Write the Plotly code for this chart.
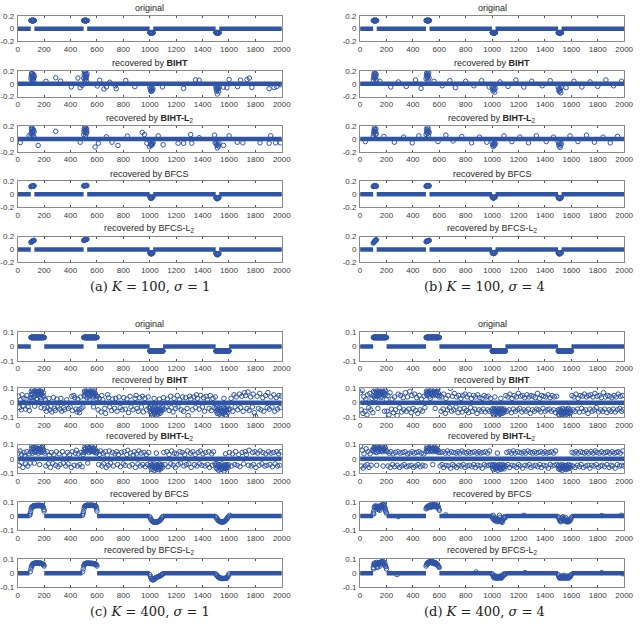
import plotly.graph_objects as go

# ---------------- data ----------------
N = 2000
x_ticks = [0, 200, 400, 600, 800, 1000, 1200, 1400, 1600, 1800, 2000]
x_tick_labels = [str(v) for v in x_ticks]
y_ticks_top = [-0.2, 0, 0.2]
y_tick_labels_top = ["-0.2", "0", "0.2"]
y_ticks_bot = [-0.1, 0, 0.1]
y_tick_labels_bot = ["-0.1", "0", "0.1"]

# original block-sparse signals
block_starts = [101, 501, 1001, 1501]
k100_len = 25
k100_vals = [0.1265, 0.1265, -0.0632, -0.0632]
k400_len = 100
k400_vals = [0.0632, 0.0632, -0.0316, -0.0316]

titles = ["original", "recovered by <b>BIHT</b>", "recovered by <b>BIHT-L</b><sub>2</sub>",
          "recovered by BFCS", "recovered by BFCS-L<sub>2</sub>"]
captions = ["(a) <i>K</i> = 100, <i>σ</i> = 1", "(b) <i>K</i> = 100, <i>σ</i> = 4",
            "(c) <i>K</i> = 400, <i>σ</i> = 1", "(d) <i>K</i> = 400, <i>σ</i> = 4"]

# recovered points (index, value) that leave the zero line
a_biht = [[100,.08],[103,.12],[105,.15],[108,.06],[110,.1],[112,.16],[115,.13],[118,.09],[120,.05],[122,.14],[125,.11],[106,.17],[114,.07],[119,.12],
          [500,.09],[503,.14],[505,.19],[508,.06],[510,.12],[512,.17],[515,.15],[518,.1],[520,.05],[522,.13],[525,.16],[507,.2],[514,.08],[517,.11],
          [214,.04],[288,.095],[325,.043],[406,-.048],[456,.09],[473,-.06],[488,-.024],[603,-.033],[621,.057],[653,-.08],[672,-.048],[697,.024],
          [739,-.03],[746,-.076],[818,.052],[887,-.043],[1096,-.048],[1256,-.071],[1347,.062],[1374,.057],[1557,-.052],[1584,-.062],[1601,.067],
          [1665,-.043],[1687,.057],[1736,.067],[1754,.09],[1773,-.057],[1904,-.076],[1941,-.057],[1961,-.043],[1990,-.014],
          [1000,-.05],[1004,-.09],[1008,-.07],[1012,-.11],[1016,-.06],[1020,-.1],[1024,-.08],[1010,-.12],
          [1500,-.04],[1503,-.08],[1506,-.11],[1509,-.06],[1512,-.16],[1515,-.09],[1518,-.07],[1521,-.12],[1524,-.05],[1510,-.03]]
a_biht_l2 = [[100,.04],[102,.09],[104,.15],[106,.18],[108,.12],[110,.07],[112,.16],[114,.1],[116,.13],[118,.05],[120,.14],[122,.03],[124,.11],[107,.17],
             [500,.07],[502,.12],[504,.16],[506,.19],[508,.1],[510,.14],[512,.18],[514,.06],[516,.13],[518,.17],[520,.09],[522,.15],[524,.11],
             [20,-.055],[86,.05],[155,-.1],[288,.12],[473,-.05],[586,-.125],[611,-.065],[672,.035],[714,-.05],[759,-.1],[830,.045],[943,.105],
             [960,.07],[978,-.065],[998,-.12],[1064,.05],[1101,-.09],[1214,-.065],[1256,-.065],[1310,.07],[1318,-.065],[1374,.02],[1490,.06],
             [1495,-.06],[1559,-.1],[1601,.05],[1663,-.05],[1705,-.06],[1835,-.06],[1904,-.065],[1916,.05],[1953,-.06],[1990,-.06],
             [1002,-.04],[1006,-.08],[1010,-.1],[1014,-.06],[1018,-.09],[1022,-.07],[1025,-.05],
             [1500,-.03],[1504,-.07],[1508,-.1],[1512,-.14],[1516,-.08],[1520,-.11],[1524,-.06]]
a_bfcs = [[100,.12],[103,.12],[106,.125],[109,.125],[112,.125],[115,.13],[118,.13],[121,.13],[124,.13],
          [500,.13],[503,.13],[506,.132],[509,.135],[512,.135],[515,.135],[518,.137],[521,.137],[524,.135],
          [1000,-.035],[1003,-.05],[1006,-.06],[1009,-.065],[1012,-.06],[1015,-.055],[1018,-.05],[1021,-.045],[1024,-.04],
          [1500,-.05],[1503,-.06],[1506,-.065],[1509,-.07],[1512,-.07],[1515,-.065],[1518,-.06],[1521,-.055],[1524,-.05]]
a_bfcs_l2 = [[100,.11],[103,.115],[106,.12],[109,.125],[112,.13],[115,.133],[118,.136],[121,.14],[124,.14],
             [500,.14],[503,.143],[506,.146],[509,.149],[512,.152],[515,.155],[518,.157],[521,.158],[524,.16],
             [1000,-.05],[1003,-.06],[1006,-.065],[1009,-.07],[1012,-.07],[1015,-.065],[1018,-.06],[1021,-.055],[1024,-.05],
             [1500,-.06],[1503,-.07],[1506,-.075],[1509,-.08],[1512,-.085],[1515,-.08],[1518,-.075],[1521,-.07],[1524,-.065]]

b_biht = [[100,.06],[103,.1],[105,.14],[108,.17],[110,.09],[112,.13],[115,.16],[118,.07],[120,.11],[122,.15],[125,.05],
          [500,.08],[503,.12],[505,.16],[508,.18],[510,.1],[512,.14],[515,.06],[518,.13],[520,.17],[523,.09],
          [150,.04],[232,-.05],[290,.03],[350,-.04],[420,.06],[462,-.07],[560,.04],[622,-.03],[680,.05],[722,-.06],[800,.04],[862,-.03],
          [920,.05],[978,-.05],[1060,.03],[1120,-.04],[1180,.06],[1240,-.05],[1300,.04],[1380,-.03],[1440,.05],[1560,-.06],[1620,.04],
          [1680,-.05],[1742,.03],[1800,-.04],[1862,.06],[1920,-.03],[1980,.04],
          [1000,-.04],[1004,-.08],[1008,-.11],[1012,-.06],[1016,-.09],[1020,-.13],[1024,-.07],
          [1500,-.05],[1504,-.09],[1508,-.12],[1512,-.07],[1516,-.1],[1520,-.14],[1524,-.06]]
b_biht_l2 = [[100,.05],[103,.09],[105,.13],[108,.17],[110,.11],[112,.15],[115,.07],[118,.12],[120,.16],[123,.08],
             [500,.07],[503,.11],[505,.15],[508,.18],[510,.09],[512,.13],[515,.17],[518,.06],[520,.12],[523,.1],
             [40,-.04],[180,.04],[260,-.05],[330,.03],[395,-.06],[445,.05],[590,-.04],[650,.06],[705,-.03],[770,.04],[845,-.06],
             [905,.03],[960,-.05],[1090,.05],[1150,-.04],[1210,.03],[1275,-.06],[1335,.05],[1410,-.04],[1465,.03],[1590,.05],
             [1650,-.04],[1715,.06],[1775,-.05],[1840,.03],[1895,-.06],[1950,.04],
             [1000,-.05],[1004,-.09],[1008,-.12],[1012,-.07],[1016,-.1],[1020,-.06],[1024,-.08],
             [1500,-.04],[1504,-.08],[1508,-.11],[1512,-.06],[1516,-.13],[1520,-.09],[1524,-.07]]
b_bfcs = [[100,.12],[103,.125],[106,.13],[109,.13],[112,.135],[115,.135],[118,.13],[121,.13],[124,.125],
          [500,.125],[503,.13],[506,.13],[509,.132],[512,.135],[515,.135],[518,.133],[521,.13],[524,.13],
          [1000,-.04],[1003,-.05],[1006,-.055],[1009,-.06],[1012,-.06],[1015,-.055],[1018,-.05],[1021,-.045],[1024,-.04],
          [1500,-.05],[1503,-.055],[1506,-.06],[1509,-.065],[1512,-.07],[1515,-.065],[1518,-.06],[1521,-.055],[1524,-.05]]
b_bfcs_l2 = [[100,.1],[103,.108],[106,.115],[109,.122],[112,.13],[115,.136],[118,.142],[121,.147],[124,.15],
             [500,.12],[503,.124],[506,.128],[509,.131],[512,.134],[515,.136],[518,.138],[521,.14],[524,.14],
             [1000,-.045],[1003,-.055],[1006,-.06],[1009,-.065],[1012,-.065],[1015,-.06],[1018,-.055],[1021,-.05],[1024,-.045],
             [1500,-.05],[1503,-.06],[1506,-.065],[1509,-.07],[1512,-.07],[1515,-.065],[1518,-.06],[1521,-.055],[1524,-.05]]

c_biht = [[6,.045],[14,-.035],[19,.02],[27,-.05],[33,.055],[41,-.025],[47,.03],[58,-.045],[63,.025],[71,.05],[79,-.03],[88,-.055],[95,.035],
          [101,.055],[103,.08],[107,.035],[111,.09],[114,.06],[119,.075],[122,.04],[127,.085],[131,.065],[134,.05],[139,.08],[143,.03],
          [146,.07],[151,.09],[155,.055],[158,.075],[163,.045],[167,.085],[171,.065],[174,.035],[179,.08],[183,.06],[186,.095],[191,.05],
          [194,.07],[198,.04],[109,.02],[149,.025],[169,.06],[129,-.025],[177,-.035],[141,.1],
          [203,-.04],[209,.02],[217,-.06],[224,-.035],[236,.03],[243,-.05],[251,-.025],[258,-.065],[271,.035],[279,-.04],[284,-.055],
          [296,.025],[303,-.03],[318,-.045],[327,.03],[334,-.06],[349,-.035],[356,-.05],[371,.02],[383,-.04],[397,-.03],[409,.045],
          [414,-.055],[425,.05],[433,.035],[441,-.045],[449,-.065],[455,.025],[463,-.05],[468,-.07],[477,.04],[481,-.04],[494,-.03],
          [502,.05],[505,.075],[509,.085],[511,.045],[517,.065],[521,.08],[523,.035],[529,.07],[533,.055],[535,.09],[541,.04],[543,.07],
          [549,.085],[551,.05],[557,.075],[561,.06],[563,.09],[569,.04],[571,.075],[577,.055],[579,.085],[585,.045],[587,.065],[593,.05],
          [597,.03],[546,.02],[574,-.03],[538,.06],[582,.07],
          [603,.045],[609,-.05],[618,.03],[631,-.065],[637,.05],[644,.02],[659,-.04],[666,-.075],[681,.055],[688,.035],[697,-.03],
          [711,-.055],[719,.025],[733,-.04],[741,.03],[752,-.06],[767,.04],[776,-.035],[791,-.05],[803,.035],[815,-.045],[827,.025],
          [839,-.07],[851,.045],[858,-.03],[873,-.05],[889,.03],[897,.05],[904,-.04],[913,-.06],[922,.035],[937,-.03],[944,.045],
          [951,-.065],[963,.03],[976,-.05],[988,.04],[994,-.035],
          [1001,-.04],[1005,-.065],[1007,-.03],[1013,-.075],[1015,-.05],[1021,-.085],[1023,-.04],[1029,-.065],[1031,-.055],[1037,-.08],
          [1039,-.035],[1045,-.06],[1047,-.05],[1053,-.09],[1055,-.045],[1061,-.07],[1063,-.03],[1069,-.06],[1071,-.05],[1077,-.075],
          [1079,-.04],[1085,-.065],[1087,-.055],[1093,-.035],[1097,-.05],[1033,.03],[1073,.025],[1042,-.02],[1058,-.08],
          [1104,.035],[1111,-.045],[1124,-.03],[1133,.025],[1147,-.055],[1158,.045],[1163,-.035],[1176,-.065],[1184,.03],[1197,-.04],
          [1209,.05],[1214,-.03],[1226,.02],[1238,-.05],[1249,.04],[1257,-.06],[1271,.035],[1283,-.04],[1291,-.09],[1302,.045],
          [1311,.025],[1323,-.05],[1336,.04],[1347,-.035],[1353,.055],[1361,.03],[1374,-.045],[1386,.05],[1398,-.03],[1407,.035],
          [1415,-.06],[1427,.045],[1436,.02],[1449,-.04],[1458,.05],[1466,-.055],[1478,.03],[1487,-.035],[1496,.04],
          [1502,-.04],[1505,-.06],[1509,-.03],[1511,-.075],[1517,-.05],[1519,-.065],[1525,-.035],[1527,-.08],[1533,-.045],[1535,-.06],
          [1541,-.09],[1543,-.04],[1549,-.07],[1551,-.055],[1557,-.035],[1559,-.075],[1565,-.05],[1567,-.065],[1573,-.04],[1575,-.085],
          [1581,-.05],[1583,-.06],[1589,-.03],[1591,-.07],[1597,-.045],[1546,-.1],[1562,.03],
          [1607,-.045],[1616,.03],[1629,-.06],[1638,.055],[1647,-.03],[1654,.04],[1666,-.05],[1679,.06],[1688,-.035],[1696,.045],
          [1707,-.06],[1718,.07],[1726,.05],[1737,-.04],[1744,.075],[1753,-.055],[1764,.04],[1777,-.03],[1783,.06],[1792,-.07],
          [1801,-.095],[1813,.045],[1824,-.04],[1833,.065],[1842,-.05],[1856,.035],[1864,-.06],[1877,.05],[1889,-.035],[1894,.07],
          [1906,-.045],[1917,.04],[1926,-.03],[1939,.055],[1947,-.06],[1958,.035],[1967,-.045],[1978,.05],[1986,-.035],[1997,.045]]
c_biht_l2 = [[4,.04],[11,-.045],[17,.055],[26,-.025],[31,.03],[39,-.06],[48,.045],[53,.02],[61,-.035],[69,.05],[77,-.05],[86,.035],[93,-.03],
             [100,.05],[104,.07],[107,.09],[112,.04],[115,.065],[121,.08],[124,.05],[127,.07],[133,.045],[136,.085],[140,.06],
             [145,.075],[147,.05],[153,.07],[156,.04],[161,.065],[164,.085],[169,.055],[172,.07],[177,.045],[180,.08],[185,.06],
             [188,.075],[193,.05],[196,.065],[126,-.03],[166,-.04],[118,.095],
             [206,.04],[213,-.05],[223,.05],[231,-.035],[239,.025],[248,-.06],[255,.045],[266,-.03],[274,.03],[287,-.045],[293,.05],
             [305,-.055],[314,.035],[322,-.04],[338,.05],[346,-.03],[353,.025],[364,-.05],[377,.045],[381,-.035],[393,.03],[406,-.06],
             [412,.05],[427,-.045],[436,.04],[444,.06],[452,-.05],[459,.035],[471,-.04],[479,.045],[488,-.055],[496,.03],
             [501,.045],[505,.065],[508,.08],[513,.05],[516,.07],[519,.055],[525,.085],[527,.06],[531,.075],[537,.045],[539,.07],
             [545,.06],[547,.08],[553,.05],[555,.065],[559,.09],[565,.055],[567,.07],[573,.05],[575,.075],[581,.06],[583,.045],
             [589,.065],[591,.05],[597,.04],[530,-.03],[561,.1],
             [604,.05],[613,-.04],[619,.03],[627,.055],[638,-.05],[646,.04],[651,-.035],[663,.05],[671,-.06],[678,.025],[686,-.045],
             [694,.055],[703,-.03],[717,.045],[724,-.05],[736,.035],[749,.05],[757,-.04],[763,.03],[778,-.055],[786,.045],[799,-.035],
             [807,.05],[814,-.045],[826,.03],[834,.06],[846,-.05],[853,.04],[867,-.04],[874,.025],[883,.05],[891,-.06],[899,.035],
             [911,-.035],[917,.055],[928,-.05],[935,.04],[947,-.04],[956,.045],[967,-.055],[974,.03],[983,-.04],[992,.045],
             [1002,-.05],[1005,-.03],[1009,-.065],[1011,-.045],[1017,-.075],[1019,-.04],[1025,-.06],[1027,-.05],[1033,-.08],[1035,-.035],
             [1041,-.065],[1043,-.055],[1049,-.045],[1051,-.07],[1057,-.04],[1059,-.06],[1065,-.05],[1067,-.075],[1073,-.035],
             [1075,-.06],[1081,-.045],[1083,-.07],[1089,-.05],[1091,-.04],[1097,-.06],[1050,.04],[1062,-.09],
             [1106,.045],[1117,-.04],[1129,.05],[1138,-.055],[1146,.03],[1159,-.035],[1166,.055],[1178,-.045],[1187,.04],[1194,-.06],
             [1203,.035],[1216,-.04],[1228,.05],[1233,-.03],[1246,.045],[1259,-.05],[1264,.03],[1277,-.04],[1285,.055],[1296,-.035],
             [1308,.04],[1313,-.06],[1326,.05],[1339,-.04],[1344,.03],[1357,-.05],[1366,.045],[1378,-.035],[1384,.055],[1395,-.045],
             [1403,.035],[1419,-.05],[1424,.045],[1437,-.04],[1446,.05],[1453,-.06],[1469,.035],[1474,-.045],[1483,.05],[1494,-.035],
             [1501,-.045],[1503,-.065],[1509,-.035],[1511,-.07],[1515,-.05],[1521,-.08],[1523,-.04],[1529,-.06],[1531,-.055],[1537,-.075],
             [1539,-.045],[1545,-.065],[1547,-.035],[1553,-.07],[1555,-.05],[1561,-.06],[1563,-.085],[1569,-.045],[1571,-.065],
             [1577,-.04],[1579,-.07],[1585,-.055],[1587,-.045],[1593,-.06],[1597,-.04],[1574,.035],
             [1604,.045],[1619,-.05],[1626,.035],[1643,-.04],[1651,.05],[1662,-.045],[1674,.03],[1683,-.055],[1699,.045],[1711,-.035],
             [1723,.05],[1731,.03],[1746,-.045],[1752,.06],[1768,-.05],[1779,.045],[1786,-.04],[1797,.05],[1804,-.06],[1817,.04],
             [1828,-.045],[1836,.055],[1849,-.035],[1857,.045],[1871,-.05],[1878,.035],[1887,-.045],[1899,.05],[1911,-.04],[1918,.04],
             [1929,-.055],[1938,.045],[1949,-.035],[1961,.05],[1968,-.05],[1976,.035],[1984,-.045],[1993,.05]]
c_bfcs = [[90,.005],[94,.015],[98,.03],[102,.05],[106,.06],[110,.065],[114,.068],[118,.07],[122,.072],[126,.07],[130,.073],
          [134,.071],[138,.074],[142,.072],[146,.075],[150,.073],[154,.074],[158,.072],[162,.075],[166,.073],[170,.074],[174,.072],
          [178,.073],[182,.071],[186,.072],[190,.068],[194,.06],[198,.045],[200,.035],
          [490,.005],[494,.015],[498,.03],[502,.05],[506,.065],[510,.07],[514,.072],[518,.074],[522,.073],[526,.075],[530,.074],
          [534,.076],[538,.074],[542,.075],[546,.073],[550,.075],[554,.074],[558,.076],[562,.074],[566,.075],[570,.073],[574,.074],
          [578,.072],[582,.073],[586,.071],[590,.07],[594,.065],[598,.05],[600,.035],
          [1000,-.005],[1005,-.015],[1010,-.025],[1015,-.032],[1020,-.037],[1025,-.04],[1030,-.042],[1035,-.043],[1040,-.044],
          [1045,-.044],[1050,-.043],[1055,-.042],[1060,-.04],[1065,-.038],[1070,-.035],[1075,-.032],[1080,-.028],[1085,-.022],
          [1090,-.015],[1095,-.008],[1100,-.003],
          [1500,-.005],[1505,-.012],[1510,-.02],[1515,-.027],[1520,-.032],[1525,-.036],[1530,-.038],[1535,-.04],[1540,-.041],
          [1545,-.042],[1550,-.042],[1555,-.041],[1560,-.04],[1565,-.038],[1570,-.035],[1575,-.03],[1580,-.025],[1585,-.018],
          [1590,-.01],[1595,-.005],[1605,.005]]
c_bfcs_l2 = [[95,.01],[100,.03],[104,.045],[108,.055],[112,.062],[116,.065],[120,.068],[124,.067],[128,.07],[132,.069],
             [136,.071],[140,.07],[144,.072],[148,.07],[152,.071],[156,.069],[160,.07],[164,.068],[168,.07],[172,.069],[176,.07],
             [180,.068],[184,.067],[188,.065],[192,.063],[196,.058],[200,.05],
             [492,.01],[496,.03],[500,.05],[504,.06],[508,.065],[512,.067],[516,.068],[520,.07],[524,.069],[528,.07],[532,.068],
             [536,.07],[540,.069],[544,.068],[548,.07],[552,.068],[556,.067],[560,.069],[564,.068],[568,.067],[572,.066],[576,.067],
             [580,.066],[584,.065],[588,.064],[592,.062],[596,.058],[600,.05],
             [1000,-.01],[1005,-.025],[1010,-.035],[1015,-.042],[1020,-.046],[1025,-.047],[1030,-.045],[1035,-.04],[1040,-.036],
             [1045,-.033],[1050,-.03],[1055,-.028],[1060,-.026],[1065,-.024],[1070,-.022],[1075,-.02],[1080,-.018],[1085,-.015],
             [1090,-.012],[1095,-.008],[1100,-.004],
             [1500,-.005],[1505,-.012],[1510,-.018],[1515,-.024],[1520,-.028],[1525,-.031],[1530,-.033],[1535,-.035],[1540,-.036],
             [1545,-.037],[1550,-.037],[1555,-.037],[1560,-.037],[1565,-.037],[1570,-.036],[1575,-.036],[1580,-.035],[1585,-.033],
             [1590,-.025],[1595,-.015],[1600,-.005]]

d_biht = [[3,.07],[9,-.05],[16,.085],[22,-.075],[29,.04],[37,-.06],[44,.025],[52,-.085],[57,.055],[66,-.035],[74,.065],[81,-.05],[90,.03],[97,-.07],
          [100,.05],[103,.08],[107,.04],[111,.07],[115,.095],[119,.055],[123,.065],[127,.085],[131,.045],[135,.07],[139,.06],
          [143,.09],[147,.05],[151,.075],[155,.06],[159,.095],[163,.045],[167,.07],[171,.08],[175,.055],[179,.065],[183,.075],
          [187,.05],[191,.085],[195,.06],[118,.03],[158,.035],[135,-.04],[185,-.06],[199,.02],
          [204,-.06],[211,.05],[219,-.085],[227,.07],[238,-.045],[243,.025],[253,-.07],[261,.04],[268,-.05],[281,-.09],[289,.06],
          [299,-.035],[307,.05],[314,-.065],[326,.035],[331,-.05],[343,.07],[351,-.06],[359,.04],[369,-.045],[377,.08],[387,-.07],
          [393,.05],[403,-.04],[413,.06],[421,-.055],[429,.035],[437,-.075],[448,.05],[455,-.05],[466,.025],[472,-.06],[485,.045],[491,-.035],
          [501,.06],[503,.08],[507,.05],[511,.07],[515,.09],[519,.06],[523,.075],[527,.045],[531,.085],[535,.065],[539,.055],
          [543,.09],[547,.06],[551,.07],[555,.05],[559,.08],[563,.065],[567,.095],[571,.055],[575,.07],[579,.06],[583,.08],
          [587,.05],[591,.1],[595,.065],[531,.03],[569,-.04],[599,.04],
          [604,.05],[613,-.06],[619,.04],[629,-.045],[634,.06],[646,-.075],[651,.03],[662,-.05],[667,.05],[677,-.035],[684,.1],
          [693,-.06],[699,.045],[709,-.05],[714,.065],[726,-.03],[731,.04],[742,-.07],[747,.05],[757,-.045],[764,.03],[773,-.065],
          [779,.05],[789,-.04],[795,.06],[806,-.055],[811,.04],[821,-.07],[827,.055],[837,-.035],[844,.03],[853,-.06],[859,.05],
          [869,-.045],[875,.04],[886,-.075],[891,.055],[901,-.05],[907,.035],[917,-.06],[924,.03],[933,-.045],[939,.05],[949,-.065],
          [955,.04],[966,-.05],[971,.045],[981,-.06],[989,.03],
          [1001,-.05],[1003,-.07],[1007,-.04],[1011,-.085],[1015,-.06],[1019,-.045],[1023,-.075],[1027,-.055],[1031,-.065],
          [1035,-.04],[1039,-.09],[1043,-.06],[1047,-.05],[1051,-.07],[1055,-.045],[1059,-.08],[1063,-.055],[1067,-.065],
          [1071,-.04],[1075,-.075],[1079,-.05],[1083,-.06],[1087,-.07],[1091,-.045],[1095,-.055],[1021,.04],[1066,.03],[1049,-.1],
          [1104,.05],[1113,-.06],[1119,.04],[1129,-.05],[1135,.06],[1146,-.07],[1151,.03],[1161,-.045],[1167,.05],[1177,-.06],
          [1184,.04],[1193,-.05],[1199,.065],[1209,-.04],[1215,.045],[1226,-.065],[1231,.05],[1241,-.05],[1247,.035],[1257,-.06],
          [1264,.055],[1273,-.045],[1279,.04],[1289,-.075],[1295,.05],[1306,-.05],[1311,.045],[1321,-.06],[1327,.035],[1337,-.045],
          [1344,.065],[1353,-.05],[1359,.03],[1369,-.065],[1375,.05],[1386,-.04],[1391,.045],[1401,-.06],[1407,.04],[1417,-.05],
          [1424,.055],[1433,-.045],[1439,.035],[1449,-.06],[1455,.05],[1466,-.05],[1471,.04],[1481,-.07],[1489,.045],
          [1501,-.05],[1503,-.08],[1507,-.06],[1511,-.09],[1515,-.045],[1519,-.07],[1523,-.055],[1527,-.085],[1531,-.06],
          [1535,-.04],[1539,-.075],[1543,-.065],[1547,-.05],[1551,-.09],[1555,-.06],[1559,-.07],[1563,-.045],[1567,-.08],
          [1571,-.055],[1575,-.065],[1579,-.04],[1583,-.075],[1587,-.06],[1591,-.05],[1595,-.07],[1530,-.1],[1570,-.095],
          [1604,.05],[1613,-.05],[1619,.04],[1629,-.06],[1635,.06],[1646,-.045],[1651,.03],[1661,-.065],[1667,.05],[1677,-.04],
          [1684,.045],[1693,-.06],[1699,.06],[1709,-.05],[1715,.04],[1726,-.075],[1731,.05],[1741,-.045],[1747,.055],[1757,-.06],
          [1764,.04],[1773,-.05],[1779,.065],[1789,-.035],[1795,.045],[1806,-.065],[1811,.05],[1821,-.05],[1827,.035],[1837,-.06],
          [1844,.07],[1853,-.045],[1859,.04],[1869,-.07],[1875,.05],[1886,-.05],[1891,.045],[1901,-.06],[1907,.035],[1917,-.045],
          [1924,.05],[1933,-.065],[1939,.04],[1949,-.05],[1955,.06],[1966,-.04],[1971,.045],[1981,-.06],[1987,.05],[1995,-.05]]
d_biht_l2 = [[4,.09],[10,-.05],[16,.06],[24,-.065],[30,.035],[38,-.05],[46,.07],[54,-.04],[60,.05],[68,-.06],[76,.035],[84,-.045],[92,.06],
             [101,.06],[103,.075],[107,.05],[111,.08],[115,.065],[119,.07],[123,.045],[127,.085],[131,.06],[135,.075],[139,.05],
             [143,.07],[147,.065],[151,.08],[155,.055],[159,.07],[163,.06],[167,.085],[171,.05],[175,.075],[179,.065],[183,.07],
             [187,.055],[191,.08],[195,.06],[126,-.045],[174,-.05],[113,.095],
             [206,.05],[211,-.05],[221,.04],[229,-.06],[234,.05],[246,-.04],[251,.035],[263,-.055],[269,.045],[281,-.045],[288,.05],
             [299,-.06],[304,.04],[316,-.05],[324,.045],[334,-.04],[341,.05],[351,-.055],[359,.035],[369,-.05],[376,.04],[387,-.045],
             [394,.05],[405,-.06],[411,.04],[421,-.05],[429,.045],[439,-.04],[446,.05],[457,-.055],[464,.04],[475,-.045],[483,.035],[493,-.05],
             [501,.05],[503,.07],[507,.085],[511,.06],[515,.075],[519,.05],[523,.08],[527,.065],[531,.07],[535,.055],[539,.085],
             [543,.06],[547,.075],[551,.05],[555,.07],[559,.065],[563,.08],[567,.055],[571,.07],[575,.06],[579,.075],[583,.05],
             [587,.065],[591,.06],[595,.045],[550,-.04],
             [606,-.05],[611,.045],[621,-.04],[629,.05],[634,-.06],[646,.04],[651,-.045],[661,.055],[669,-.05],[674,.04],[686,-.065],
             [691,.05],[701,-.04],[709,.045],[714,-.05],[726,.04],[731,-.06],[741,.05],[749,-.045],[754,.04],[766,-.05],[771,.055],
             [781,-.04],[789,.045],[794,-.06],[806,.04],[811,-.05],[821,.05],[829,-.045],[834,.04],[846,-.055],[851,.045],[861,-.04],
             [869,.05],[874,-.06],[886,.04],[891,-.045],[901,.05],[909,-.05],[914,.04],[926,-.065],[931,.045],[941,-.04],[949,.05],
             [954,-.05],[966,.04],[971,-.045],[981,.055],[989,-.04],
             [1001,-.045],[1003,-.065],[1007,-.05],[1011,-.075],[1015,-.04],[1019,-.06],[1023,-.055],[1027,-.07],[1031,-.045],
             [1035,-.065],[1039,-.05],[1043,-.08],[1047,-.055],[1051,-.04],[1055,-.07],[1059,-.06],[1063,-.045],[1067,-.075],
             [1071,-.05],[1075,-.065],[1079,-.04],[1083,-.06],[1087,-.055],[1091,-.07],[1095,-.045],[1040,.04],
             [1106,-.05],[1111,.045],[1121,-.04],[1129,.05],[1134,-.06],[1146,.04],[1151,-.045],[1161,.055],[1169,-.05],[1174,.04],
             [1186,-.06],[1191,.05],[1201,-.04],[1209,.045],[1214,-.05],[1226,.04],[1231,-.065],[1241,.05],[1249,-.045],[1254,.04],
             [1266,-.05],[1271,.055],[1281,-.04],[1289,.045],[1294,-.06],[1306,.04],[1311,-.05],[1321,.05],[1329,-.045],[1334,.04],
             [1346,-.055],[1351,.045],[1361,-.04],[1369,.05],[1374,-.06],[1386,.04],[1391,-.045],[1401,.05],[1409,-.05],[1414,.04],
             [1426,-.065],[1431,.045],[1441,-.04],[1449,.05],[1454,-.05],[1466,.04],[1471,-.045],[1481,.055],[1489,-.04],
             [1501,-.05],[1503,-.07],[1507,-.045],[1511,-.06],[1515,-.075],[1519,-.05],[1523,-.065],[1527,-.04],[1531,-.08],
             [1535,-.055],[1539,-.065],[1543,-.045],[1547,-.07],[1551,-.06],[1555,-.05],[1559,-.075],[1563,-.045],[1567,-.065],
             [1571,-.055],[1575,-.07],[1579,-.04],[1583,-.06],[1587,-.05],[1591,-.065],[1595,-.045],
             [1606,.045],[1611,-.05],[1621,.04],[1629,-.06],[1634,.05],[1646,-.045],[1651,.04],[1661,-.055],[1669,.05],[1674,-.04],
             [1686,.045],[1691,-.06],[1701,.04],[1709,-.05],[1714,.05],[1726,-.045],[1731,.04],[1741,-.065],[1749,.05],[1754,-.045],
             [1766,.04],[1771,-.05],[1781,.055],[1789,-.04],[1794,.045],[1806,-.06],[1811,.04],[1821,-.05],[1829,.05],[1834,-.045],
             [1846,.04],[1851,-.055],[1861,.045],[1869,-.04],[1874,.05],[1886,-.06],[1891,.04],[1901,-.045],[1909,.05],[1914,-.05],
             [1926,.04],[1931,-.065],[1941,.045],[1949,-.04],[1954,.05],[1966,-.05],[1971,.04],[1981,-.045],[1989,.055],[1996,-.05]]
d_bfcs = [[100,.02],[104,.035],[108,.06],[112,.07],[116,.065],[120,.055],[124,.07],[128,.06],[132,.05],[136,.065],[140,.045],
          [144,.06],[148,.07],[152,.055],[156,.065],[160,.075],[164,.07],[168,.065],[172,.08],[176,.085],[180,.075],[184,.07],
          [188,.06],[192,.04],[196,.03],[200,.02],[104,.015],[150,.04],[190,.05],
          [500,.05],[504,.06],[508,.055],[512,.065],[516,.07],[520,.06],[524,.065],[528,.075],[532,.06],[536,.07],[540,.08],
          [544,.065],[548,.07],[552,.075],[556,.065],[560,.08],[564,.07],[568,.085],[572,.07],[576,.065],[580,.075],[584,.06],
          [588,.07],[592,.065],[596,.05],[600,.04],
          [1000,-.005],[1004,-.015],[1008,.005],[1012,-.02],[1016,-.03],[1020,-.01],[1024,-.025],[1028,-.035],[1032,-.02],
          [1036,-.03],[1040,-.04],[1044,-.025],[1048,-.035],[1052,-.03],[1056,.005],[1060,-.01],[1064,-.03],[1068,-.04],
          [1072,-.035],[1076,-.045],[1080,-.03],[1084,-.02],[1088,-.01],[1092,-.015],[1096,-.005],[1100,-.01],
          [1500,-.005],[1504,-.01],[1508,-.02],[1512,-.03],[1516,-.035],[1520,-.04],[1524,-.03],[1528,-.02],[1532,-.01],
          [1536,-.005],[1540,-.02],[1544,-.03],[1548,-.035],[1552,-.02],[1556,-.01],[1560,-.03],[1564,-.04],[1568,-.035],
          [1572,-.04],[1576,-.03],[1580,-.04],[1584,-.035],[1588,-.025],[1592,-.03],[1596,-.02],[1600,-.01],
          [650,.008],[1240,.005],[1830,.003],[1980,.005],[290,-.004]]
d_bfcs_l2 = [[100,.04],[104,.06],[108,.07],[112,.065],[116,.055],[120,.07],[124,.075],[128,.06],[132,.045],[136,.065],
             [140,.07],[144,.075],[148,.06],[152,.05],[156,.07],[160,.075],[164,.08],[168,.085],[172,.07],[176,.08],[180,.065],
             [184,.06],[188,.07],[192,.05],[196,.045],[200,.03],[102,.03],[130,.04],
             [500,.05],[504,.06],[508,.07],[512,.065],[516,.075],[520,.07],[524,.08],[528,.075],[532,.085],[536,.08],[540,.075],
             [544,.085],[548,.07],[552,.08],[556,.075],[560,.07],[564,.065],[568,.075],[572,.07],[576,.065],[580,.06],[584,.065],
             [588,.055],[592,.05],[596,.045],[600,.04],
             [1000,-.005],[1004,-.01],[1008,-.02],[1012,-.03],[1016,-.02],[1020,-.025],[1024,-.035],[1028,-.02],[1032,-.03],
             [1036,-.035],[1040,-.025],[1044,-.03],[1048,-.035],[1052,-.025],[1056,-.03],[1060,-.02],[1064,-.03],[1068,-.035],
             [1072,-.025],[1076,-.03],[1080,-.02],[1084,-.01],[1088,-.015],[1092,-.005],[1096,-.01],[1100,-.005],
             [1500,-.01],[1504,-.02],[1508,-.03],[1512,-.035],[1516,-.025],[1520,-.03],[1524,-.035],[1528,-.02],[1532,-.03],
             [1536,-.035],[1540,-.025],[1544,-.015],[1548,-.03],[1552,-.035],[1556,-.025],[1560,-.03],[1564,-.035],[1568,-.02],
             [1572,-.03],[1576,-.025],[1580,-.035],[1584,-.03],[1588,-.02],[1592,-.025],[1596,-.015],[1600,-.01],
             [280,-.01],[880,.008],[1250,.004],[1830,.004],[1990,-.004]]

# zero-line breaks (index ranges) for panels whose zero line is interrupted
gaps_k100 = [[100, 126], [500, 526], [1000, 1026], [1500, 1526]]
gaps_k400 = [[100, 201], [500, 601], [1000, 1101], [1500, 1601]]
gaps_c_bfcs = [[90, 201], [490, 601], [1000, 1101], [1500, 1606]]
gaps_d_bfcs = [[100, 201], [500, 601], [1000, 1101], [1500, 1601]]

# ---------------- layout geometry ----------------
W, H = 640, 624
COLOR = "#2f54a6"
col_px = [(13, 283), (363, 633)]
top_px = [12, 68, 124, 180, 236]
top_h = 26
bot_px = [333, 390, 447, 505, 563]
bot_h = 29
caption_y = [287, 616]
caption_x = [148, 490]


def orig_points(length, vals):
    xs, ys = [], []
    for s, v in zip(block_starts, vals):
        for i in range(s, s + length):
            xs.append(i)
            ys.append(v)
    return xs, ys


groups = [
    dict(col=0, half=0, panels=[("orig", k100_len, k100_vals, gaps_k100), (a_biht, []), (a_biht_l2, []),
                                 (a_bfcs, gaps_k100), (a_bfcs_l2, gaps_k100)]),
    dict(col=1, half=0, panels=[("orig", k100_len, k100_vals, gaps_k100), (b_biht, []), (b_biht_l2, []),
                                 (b_bfcs, gaps_k100), (b_bfcs_l2, gaps_k100)]),
    dict(col=0, half=1, panels=[("orig", k400_len, k400_vals, gaps_k400), (c_biht, []), (c_biht_l2, []),
                                 (c_bfcs, gaps_c_bfcs), (c_bfcs_l2, gaps_c_bfcs)]),
    dict(col=1, half=1, panels=[("orig", k400_len, k400_vals, gaps_k400), (d_biht, []), (d_biht_l2, []),
                                 (d_bfcs, gaps_d_bfcs), (d_bfcs_l2, gaps_d_bfcs)]),
]

fig = go.Figure()
layout = {}
annotations = []
n = 0
idx_all = list(range(1, N + 1))
for gi, g in enumerate(groups):
    x0, x1 = col_px[g["col"]]
    tops = top_px if g["half"] == 0 else bot_px
    h = top_h if g["half"] == 0 else bot_h
    yt = (y_ticks_top, y_tick_labels_top) if g["half"] == 0 else (y_ticks_bot, y_tick_labels_bot)
    yr = [-0.2, 0.2] if g["half"] == 0 else [-0.1, 0.1]
    for r, p in enumerate(g["panels"]):
        n += 1
        sfx = "" if n == 1 else str(n)
        t = tops[r]
        dom_y = [1 - (t + h) / H, 1 - t / H]
        dom_x = [x0 / W, x1 / W]
        common = dict(showline=True, linecolor="#8a8a8a", linewidth=1, mirror="ticks", ticks="inside",
                      ticklen=2, tickcolor="#555", showgrid=False, zeroline=False,
                      tickfont=dict(family="Liberation Sans, Arial", size=8, color="#3a3a3a"))
        layout["xaxis" + sfx] = dict(domain=dom_x, range=[0, 2000], tickvals=x_ticks, ticktext=x_tick_labels,
                                     anchor="y" + sfx, **common)
        layout["yaxis" + sfx] = dict(domain=dom_y, range=yr, tickvals=yt[0], ticktext=yt[1],
                                     anchor="x" + sfx, ticklabelstandoff=1, **common)
        if p[0] == "orig":
            px, py = orig_points(p[1], p[2])
            gaps = p[3]
        else:
            px = [q[0] for q in p[0]]
            py = [q[1] for q in p[0]]
            gaps = p[1]
        base_y = []
        for i in idx_all:
            inside = any(a <= i < b for a, b in gaps)
            base_y.append(None if inside else 0)
        fig.add_trace(go.Scatter(x=idx_all, y=base_y, mode="lines", line=dict(color=COLOR, width=4.5),
                                 connectgaps=False, xaxis="x" + sfx, yaxis="y" + sfx, hoverinfo="skip",
                                 showlegend=False))
        fig.add_trace(go.Scatter(x=px, y=py, mode="markers",
                                 marker=dict(symbol="circle-open", size=4.5, color=COLOR, line=dict(width=1, color=COLOR)),
                                 xaxis="x" + sfx, yaxis="y" + sfx, showlegend=False, cliponaxis=True))
        annotations.append(dict(text=titles[r], x=(x0 + x1) / 2 / W, y=1 - (t - 8) / H, xref="paper", yref="paper",
                                xanchor="center", yanchor="middle", showarrow=False,
                                font=dict(family="Liberation Sans, Arial", size=9, color="#262626")))
    annotations.append(dict(text=captions[gi], x=caption_x[g["col"]] / W, y=1 - caption_y[g["half"]] / H,
                            xref="paper", yref="paper", xanchor="center", yanchor="middle", showarrow=False,
                            font=dict(family="DejaVu Serif", size=13, color="#222")))

fig.update_layout(width=W, height=H, margin=dict(l=0, r=0, t=0, b=0), paper_bgcolor="white",
                  plot_bgcolor="white", annotations=annotations, **layout)
fig.write_html("out.html", config={"displayModeBar": False},
               post_script="document.body.style.margin='0';document.body.style.overflow='hidden';")
